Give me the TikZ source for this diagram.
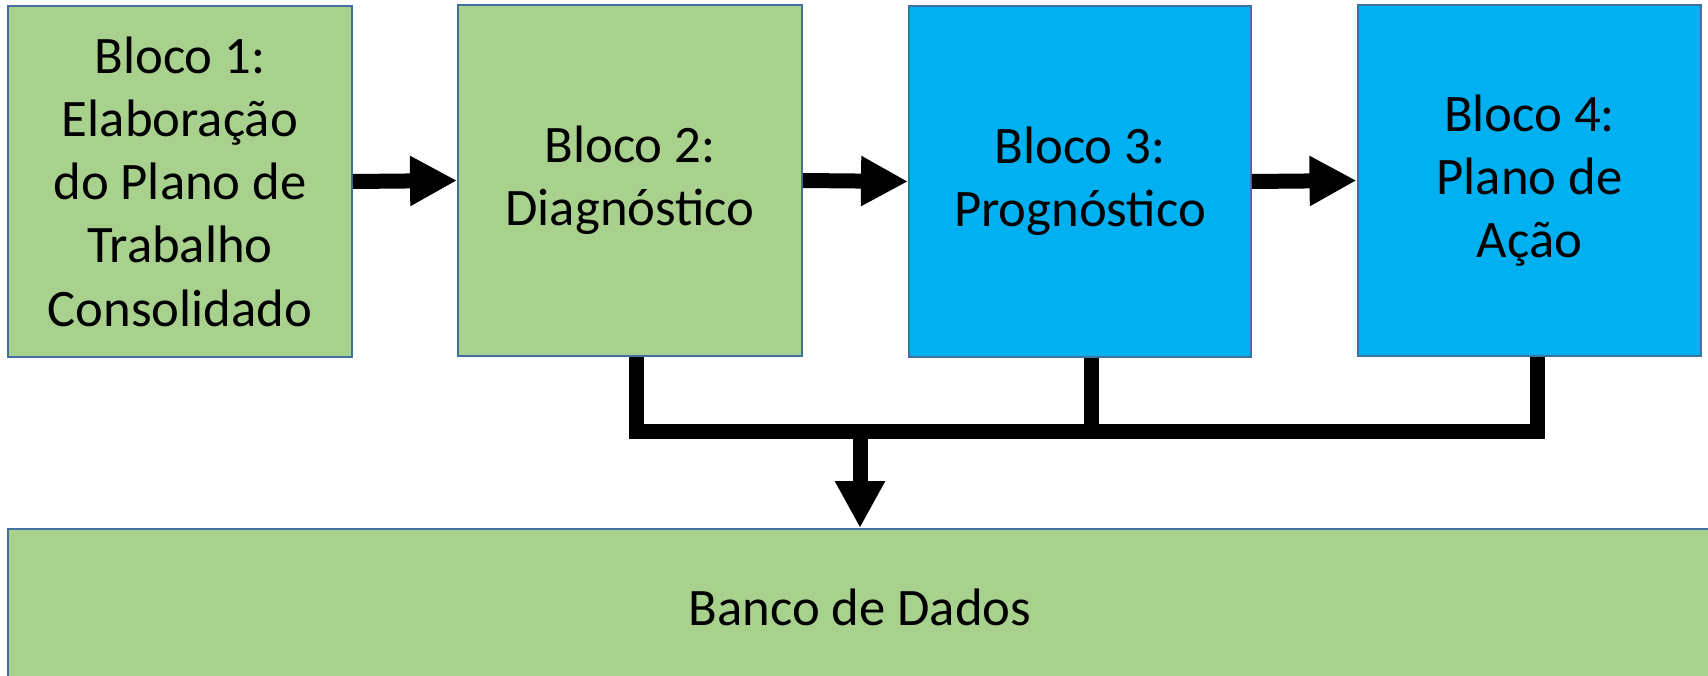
\documentclass[tikz,border=0pt]{standalone}
\usepackage{fontspec}
\setmainfont{Carlito}
\usetikzlibrary{arrows.meta}
\definecolor{blocogreen}{RGB}{169,209,142}
\definecolor{blocoblue}{RGB}{0,176,240}
\definecolor{bordablue}{RGB}{65,113,156}
\tikzset{
  bloco/.style={draw=bordablue,line width=0.04cm,inner sep=0pt,align=center,
    minimum width=6.88cm,minimum height=7.02cm,
    font=\fontsize{30}{36}\selectfont},
  seta/.style={line width=0.3cm,-{Triangle[length=0.94cm,width=0.94cm]}},
  liga/.style={line width=0.3cm,line join=miter}
}
\begin{document}
    \begin{tikzpicture}[x=0.02cm,y=-0.02cm]
      \useasboundingbox (0,0) rectangle (1708,676);
      \clip (0,0) rectangle (1708,676);
      \node[bloco,fill=blocogreen] (b1) at (180,181.5)
        {Bloco 1:\\Elaboração\\do Plano de\\Trabalho\\Consolidado};
      \node[bloco,fill=blocogreen] (b2) at (630,180.5) {Bloco 2:\\Diagnóstico};
      \node[bloco,fill=blocoblue,minimum width=6.84cm] (b3) at (1080,181.5)
        {Bloco 3:\\Prognóstico};
      \node[bloco,fill=blocoblue] (b4) at (1529.5,180.5) {Bloco 4:\\Plano de\\Ação};
      \node[bloco,fill=blocogreen,minimum width=34.08cm,minimum height=3.12cm]
        (banco) at (860,607) {Banco de Dados};
      \draw[seta] (b1.east) -- (b2.west);
      \draw[seta] (b2.east) -- (b3.west);
      \draw[seta] (b3.east) -- (b4.west);
      % barra comum
      \coordinate (busL) at (636,431);
      \coordinate (busM) at (1091,431);
      \coordinate (busR) at (1537,431);
      \draw[liga] (b2.south -| busL) -- (busL) -- (busR) -- (b4.south -| busR);
      \draw[liga] (b3.south -| busM) -- (busM);
      \draw[seta] (banco.north |- busL) -- (banco.north);
    \end{tikzpicture}
\end{document}
